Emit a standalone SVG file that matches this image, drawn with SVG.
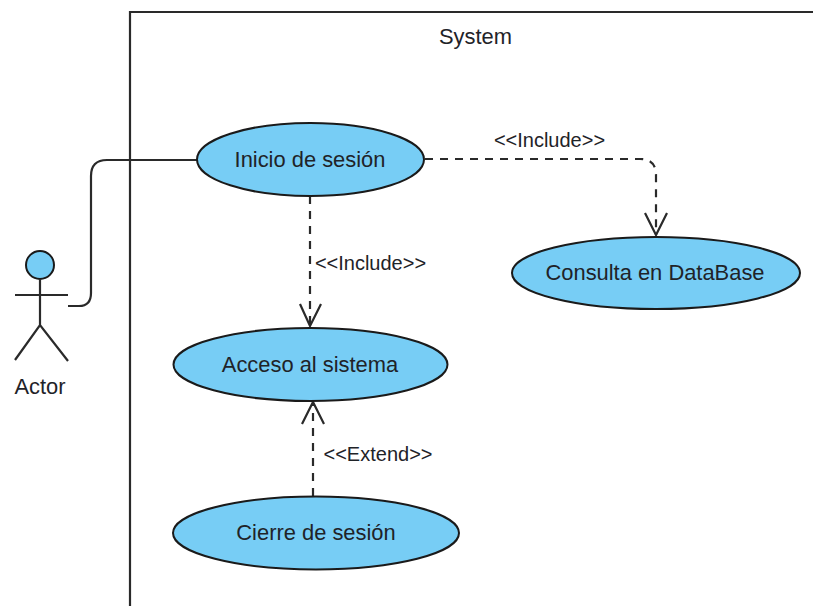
<svg xmlns="http://www.w3.org/2000/svg" width="813" height="606" viewBox="0 0 813 606">
<style>
text{font-family:"Liberation Sans",Arial,sans-serif;fill:#1f2328;text-anchor:middle}
.uc{font-size:21.9px}
.lb{font-size:20px}
ellipse,circle.h{fill:#77cdf5;stroke:#1a1a1a;stroke-width:2}
.l{fill:none;stroke:#2a2a2a;stroke-width:2.200}
.d{fill:none;stroke:#2a2a2a;stroke-width:2.200;stroke-dasharray:8 7}
.a{fill:none;stroke:#2a2a2a;stroke-width:2.200}
</style>
<rect width="813" height="606" fill="#fff"/>
<g id="system">
<path class="l" d="M130 606V12H813"/>
<text class="uc" x="475.500" y="44">System</text>
</g>
<g id="connectors">
<path class="l" d="M68 306H79Q91 306 91 293V176Q91 160 107 160H197"/>
<path class="d" d="M425 159H640Q656 159 656 175V235"/>
<path class="a" d="M645 213L656 235L667 213"/>
<path class="d" d="M310 196V325"/>
<path class="a" d="M300 304L310 326L321 304"/>
<path class="d" d="M313 496V403"/>
<path class="a" d="M302 424L313 402L324 424"/>
</g>
<g id="actor">
<circle class="h" cx="40" cy="265" r="14"/>
<path class="l" d="M40 279V325M15 295H68M15 360L40 325L68 361"/>
<text class="uc" x="40" y="394">Actor</text>
</g>
<g id="inicio">
<ellipse cx="310.500" cy="159.500" rx="113.500" ry="36.500"/>
<text class="uc" x="310" y="167">Inicio de sesión</text>
<text class="lb" x="549.500" y="147">&lt;&lt;Include&gt;&gt;</text>
</g>
<g id="consulta">
<ellipse cx="656" cy="273" rx="144" ry="36"/>
<text class="uc" x="655" y="280">Consulta en DataBase</text>
</g>
<g id="acceso">
<ellipse cx="310.500" cy="364.500" rx="137" ry="36.500"/>
<text class="uc" x="310" y="372">Acceso al sistema</text>
<text class="lb" x="370.500" y="270">&lt;&lt;Include&gt;&gt;</text>
</g>
<g id="cierre">
<ellipse cx="316" cy="533" rx="143" ry="36.500"/>
<text class="uc" x="316" y="540">Cierre de sesión</text>
<text class="lb" x="378" y="461">&lt;&lt;Extend&gt;&gt;</text>
</g>
</svg>
